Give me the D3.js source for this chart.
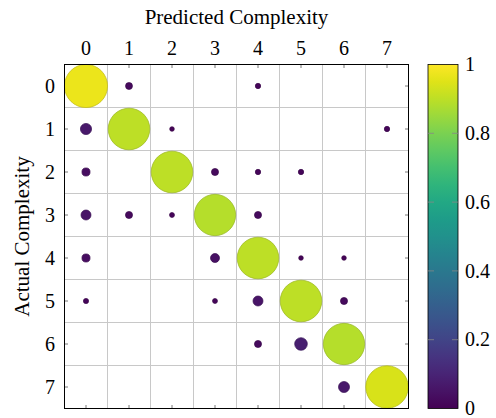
<!DOCTYPE html>
<html>
<head>
<meta charset="utf-8">
<script src="https://cdn.jsdelivr.net/npm/d3@7"></script>
<style>
body { margin: 0; background: #fff; }
svg { display: block; font-family: "Liberation Serif", "DejaVu Serif", serif; }
</style>
</head>
<body>
<script>
// classes on both axes
const classes = [0, 1, 2, 3, 4, 5, 6, 7];

// rows = actual, columns = predicted (row-normalised)
const row0 = [0.97, 0.025, 0, 0, 0.015, 0, 0, 0];
const row1 = [0.065, 0.90, 0.011, 0, 0, 0, 0, 0.015];
const row2 = [0.034, 0, 0.90, 0.026, 0.015, 0.015, 0, 0];
const row3 = [0.052, 0.026, 0.013, 0.89, 0.026, 0, 0, 0];
const row4 = [0.034, 0, 0, 0.042, 0.90, 0.011, 0.011, 0];
const row5 = [0.014, 0, 0, 0.013, 0.052, 0.90, 0.026, 0];
const row6 = [0, 0, 0, 0, 0.026, 0.083, 0.89, 0];
const row7 = [0, 0, 0, 0, 0, 0, 0.063, 0.94];
const matrix = [row0, row1, row2, row3, row4, row5, row6, row7];

const colorTicks = [0, 0.2, 0.4, 0.6, 0.8, 1];

const width = 496, height = 418;
const pLeft = 64.5, pRight = 408.5, pTop = 64.5, pBottom = 408.5;

const svg = d3.select('body').append('svg')
	.attr('width', width)
	.attr('height', height);

const x = d3.scaleBand().domain(classes).range([pLeft, pRight]);
const y = d3.scaleBand().domain(classes).range([pTop, pBottom]);
const r = d3.scaleSqrt().domain([0, 1]).range([0, 21.9]);
const color = d3.scaleSequential(d3.interpolateViridis).domain([0, 1]);

// grid at cell borders
const edges = d3.range(1, classes.length);
svg.append('g').selectAll('line')
	.data(edges)
	.enter().append('line')
	.attr('x1', d => pLeft + d * x.bandwidth())
	.attr('x2', d => pLeft + d * x.bandwidth())
	.attr('y1', pTop).attr('y2', pBottom)
	.attr('stroke', '#c8c8c8').attr('stroke-width', 1);
svg.append('g').selectAll('line')
	.data(edges)
	.enter().append('line')
	.attr('y1', d => pTop + d * y.bandwidth())
	.attr('y2', d => pTop + d * y.bandwidth())
	.attr('x1', pLeft).attr('x2', pRight)
	.attr('stroke', '#c8c8c8').attr('stroke-width', 1);

// small tick marks at cell centres, pointing inwards
const tk = 3.5;
classes.forEach(c => {
	const cx = x(c) + x.bandwidth() / 2;
	const cy = y(c) + y.bandwidth() / 2;
	[[cx, pTop, cx, pTop + tk], [cx, pBottom, cx, pBottom - tk],
	 [pLeft, cy, pLeft + tk, cy], [pRight, cy, pRight - tk, cy]].forEach(p => {
		svg.append('line')
			.attr('x1', p[0]).attr('y1', p[1]).attr('x2', p[2]).attr('y2', p[3])
			.attr('stroke', '#555').attr('stroke-width', 0.8);
	});
});

// bubbles
const cells = [];
matrix.forEach((row, i) => row.forEach((v, j) => {
	if (v > 0) cells.push({ actual: i, predicted: j, value: v });
}));

svg.append('g').selectAll('circle')
	.data(cells)
	.enter().append('circle')
	.attr('cx', d => x(d.predicted) + x.bandwidth() / 2)
	.attr('cy', d => y(d.actual) + y.bandwidth() / 2)
	.attr('r', d => r(d.value))
	.attr('fill', d => color(d.value))
	.attr('stroke', d => d3.color(color(d.value)).darker(0.6))
	.attr('stroke-width', 0.7);

// frame
svg.append('rect')
	.attr('x', pLeft).attr('y', pTop)
	.attr('width', pRight - pLeft).attr('height', pBottom - pTop)
	.attr('fill', 'none').attr('stroke', '#000').attr('stroke-width', 1);

// tick labels
svg.append('g').selectAll('text')
	.data(classes)
	.enter().append('text')
	.attr('x', d => x(d) + x.bandwidth() / 2)
	.attr('y', 55)
	.attr('text-anchor', 'middle')
	.attr('font-size', 20)
	.text(d => d);

svg.append('g').selectAll('text')
	.data(classes)
	.enter().append('text')
	.attr('x', 55)
	.attr('y', d => y(d) + y.bandwidth() / 2)
	.attr('dy', '0.33em')
	.attr('text-anchor', 'end')
	.attr('font-size', 20)
	.text(d => d);

// axis titles
svg.append('text')
	.attr('x', (pLeft + pRight) / 2)
	.attr('y', 24)
	.attr('text-anchor', 'middle')
	.attr('font-size', 21)
	.text('Predicted Complexity');

svg.append('text')
	.attr('transform', `translate(29, ${(pTop + pBottom) / 2}) rotate(-90)`)
	.attr('text-anchor', 'middle')
	.attr('font-size', 21)
	.text('Actual Complexity');

// colour bar
const cbX = 428, cbW = 30;
const cbScale = d3.scaleLinear().domain([0, 1]).range([pBottom, pTop]);

const grad = svg.append('defs').append('linearGradient')
	.attr('id', 'viridis')
	.attr('x1', 0).attr('y1', 1).attr('x2', 0).attr('y2', 0);
grad.selectAll('stop')
	.data(d3.range(0, 1.0001, 0.05))
	.enter().append('stop')
	.attr('offset', d => d)
	.attr('stop-color', d => color(d));

svg.append('rect')
	.attr('x', cbX).attr('y', pTop)
	.attr('width', cbW).attr('height', pBottom - pTop)
	.attr('fill', 'url(#viridis)')
	.attr('stroke', '#000').attr('stroke-width', 0.8);

const cbTicks = svg.append('g').selectAll('g')
	.data(colorTicks)
	.enter().append('g');

cbTicks.filter(d => d > 0 && d < 1).each(function (d) {
	const g = d3.select(this);
	g.append('line')
		.attr('x1', cbX).attr('x2', cbX + 6)
		.attr('y1', cbScale(d)).attr('y2', cbScale(d))
		.attr('stroke', '#888').attr('stroke-width', 0.8);
	g.append('line')
		.attr('x1', cbX + cbW - 6).attr('x2', cbX + cbW)
		.attr('y1', cbScale(d)).attr('y2', cbScale(d))
		.attr('stroke', '#888').attr('stroke-width', 0.8);
});

cbTicks.append('text')
	.attr('x', cbX + cbW + 7)
	.attr('y', d => cbScale(d))
	.attr('dy', '0.33em')
	.attr('font-size', 20)
	.text(d => d);
</script>
</body>
</html>
